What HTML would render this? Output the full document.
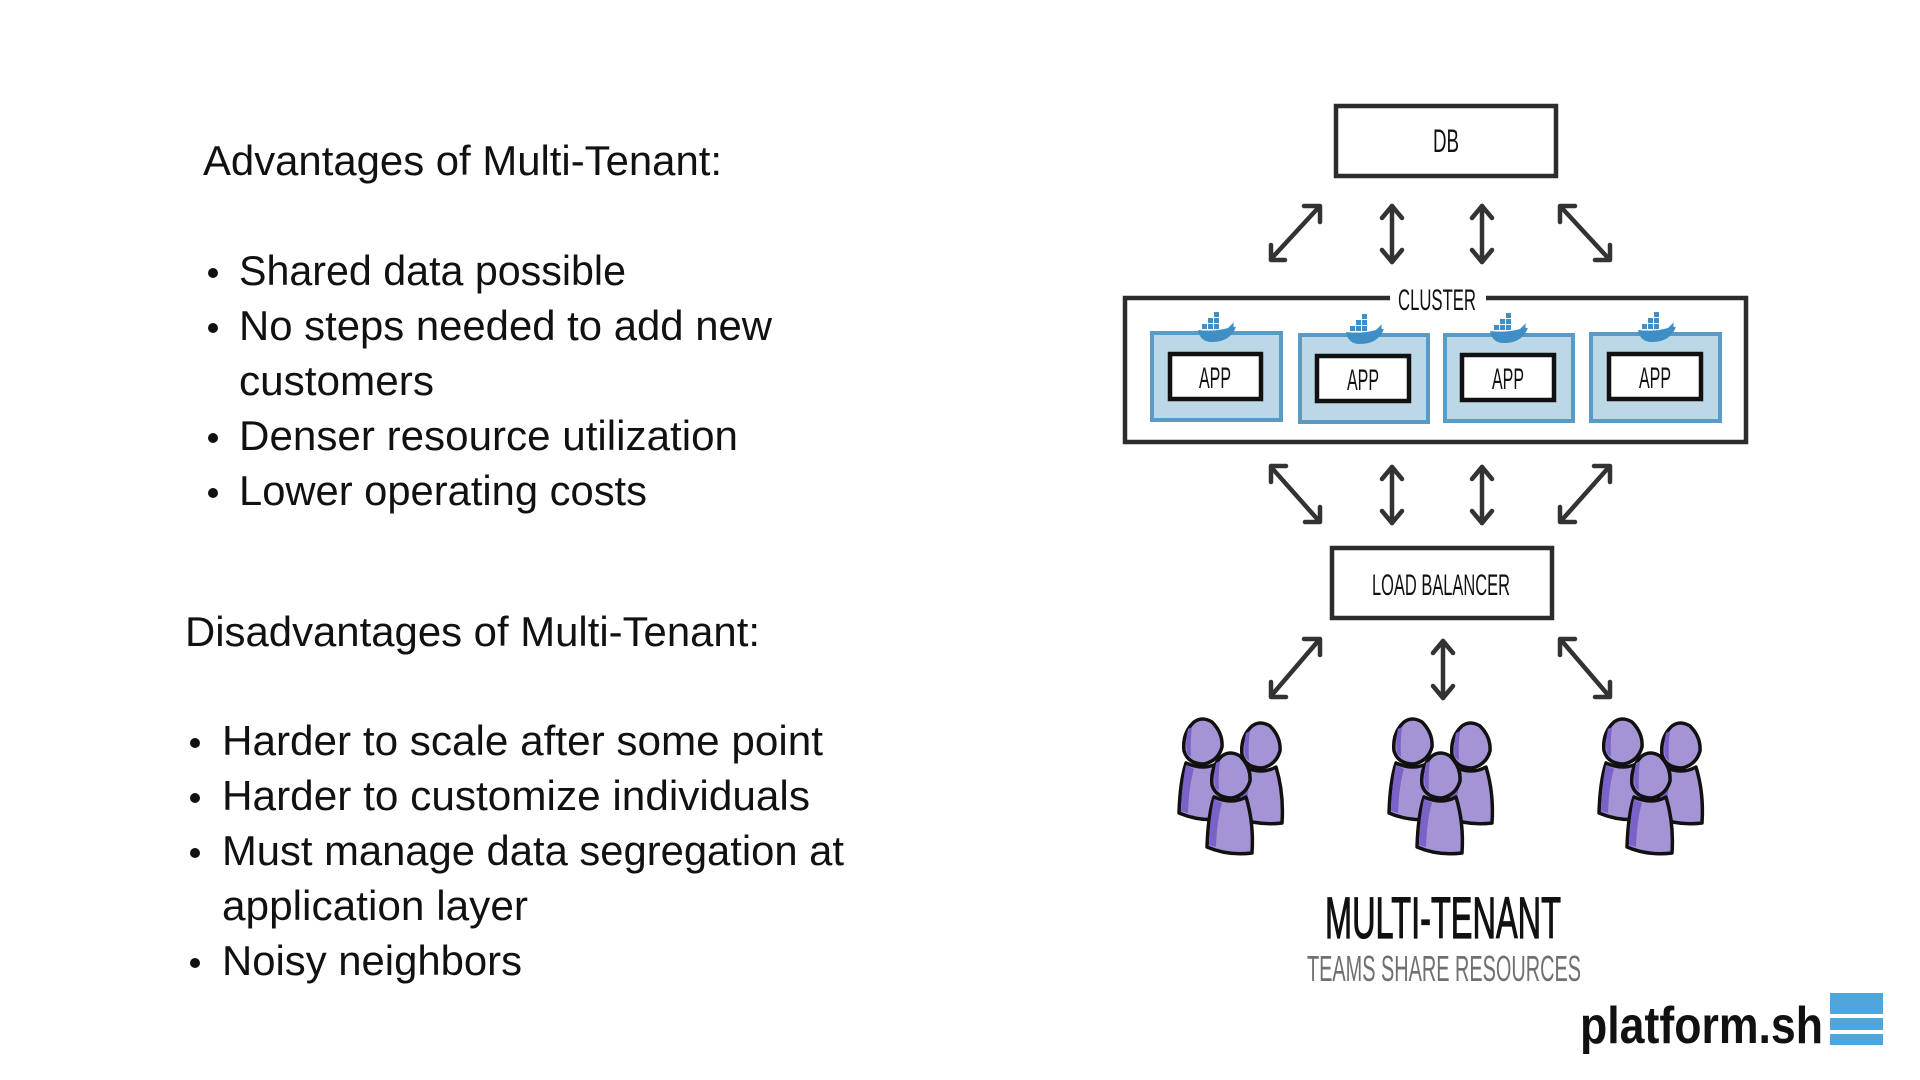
<!DOCTYPE html>
<html><head><meta charset="utf-8"><style>
html,body{margin:0;padding:0;background:#fff;width:1920px;height:1080px;overflow:hidden}
svg{display:block}
.t{font-family:"Liberation Sans",sans-serif;font-size:42px;fill:#111}
.h{font-family:"Liberation Sans Narrow","Liberation Sans",sans-serif;fill:#111}
.ar{fill:none;stroke:#333;stroke-width:4.5;stroke-linecap:round;stroke-linejoin:round}
</style></head><body>
<svg width="1920" height="1080" viewBox="0 0 1920 1080" xmlns="http://www.w3.org/2000/svg">
<defs>
<g id="person">
  <path d="M6,44 Q0,62 -1,94 Q20,103 44,100 Q46,70 38,44 Q24,52 6,44 Z" fill="#a594d5" stroke="#111" stroke-width="3.5" stroke-linejoin="round"/>
  <path d="M6,46 Q2,64 1,92 L8,94 Q9,66 14,50 Z" fill="#7a62c9"/>
  <path d="M14,3 Q22,-3 32,3 Q43,14 42,28 Q38,42 24,45 Q8,45 4,32 Q2,14 14,3 Z" fill="#a594d5" stroke="#111" stroke-width="3.5" stroke-linejoin="round"/>
  <path d="M8,10 Q5,22 7,34 L11,38 Q10,22 12,8 Z" fill="#7a62c9"/>
</g>
<g id="group">
  <use href="#person" x="0" y="0"/>
  <use href="#person" x="58" y="4"/>
  <use href="#person" x="28" y="34"/>
</g>
<g id="whale">
  <path d="M0,10 Q16,12 30,8 Q34,4 36,2 Q34,8 38,7 Q32,22 14,22 Q2,22 0,10 Z" fill="#3f8fc6"/>
  <rect x="4" y="4" width="5" height="5" fill="#3f8fc6"/><rect x="10" y="4" width="5" height="5" fill="#3f8fc6"/><rect x="16" y="4" width="5" height="5" fill="#3f8fc6"/>
  <rect x="10" y="-2" width="5" height="5" fill="#3f8fc6"/><rect x="16" y="-2" width="5" height="5" fill="#3f8fc6"/><rect x="16" y="-8" width="5" height="5" fill="#3f8fc6"/>
</g>
</defs>

<text class="t" x="203" y="175" textLength="519" lengthAdjust="spacingAndGlyphs">Advantages of Multi-Tenant:</text>
<g class="t">
<circle cx="213" cy="273" r="5" fill="#111"/><text x="239" y="285" textLength="387" lengthAdjust="spacingAndGlyphs">Shared data possible</text>
<circle cx="213" cy="328" r="5" fill="#111"/><text x="239" y="340" textLength="533" lengthAdjust="spacingAndGlyphs">No steps needed to add new</text>
<text x="239" y="395" textLength="195" lengthAdjust="spacingAndGlyphs">customers</text>
<circle cx="213" cy="438" r="5" fill="#111"/><text x="239" y="450" textLength="499" lengthAdjust="spacingAndGlyphs">Denser resource utilization</text>
<circle cx="213" cy="493" r="5" fill="#111"/><text x="239" y="505" textLength="408" lengthAdjust="spacingAndGlyphs">Lower operating costs</text>
</g>
<text class="t" x="185" y="646" textLength="575" lengthAdjust="spacingAndGlyphs">Disadvantages of Multi-Tenant:</text>
<g class="t">
<circle cx="195" cy="743" r="5" fill="#111"/><text x="222" y="755" textLength="601" lengthAdjust="spacingAndGlyphs">Harder to scale after some point</text>
<circle cx="195" cy="798" r="5" fill="#111"/><text x="222" y="810" textLength="588" lengthAdjust="spacingAndGlyphs">Harder to customize individuals</text>
<circle cx="195" cy="853" r="5" fill="#111"/><text x="222" y="865" textLength="622" lengthAdjust="spacingAndGlyphs">Must manage data segregation at</text>
<text x="222" y="920" textLength="306" lengthAdjust="spacingAndGlyphs">application layer</text>
<circle cx="195" cy="963" r="5" fill="#111"/><text x="222" y="975" textLength="300" lengthAdjust="spacingAndGlyphs">Noisy neighbors</text>
</g>

<rect x="1336" y="106" width="220" height="70" fill="#fff" stroke="#2c2c2c" stroke-width="4.5"/>
<text class="h" x="1446" y="152" font-size="32" text-anchor="middle" textLength="26" lengthAdjust="spacingAndGlyphs">DB</text>

<g class="ar">
<line x1="1271" y1="259" x2="1319" y2="207"/><polyline points="1271,245 1271,260 1285,260"/><polyline points="1304,206 1320,206 1320,222"/>
<line x1="1392" y1="206" x2="1392" y2="262"/><polyline points="1382,218 1392,206 1402,218"/><polyline points="1382,250 1392,262 1402,250"/>
<line x1="1482" y1="206" x2="1482" y2="262"/><polyline points="1472,218 1482,206 1492,218"/><polyline points="1472,250 1482,262 1492,250"/>
<line x1="1561" y1="207" x2="1609" y2="259"/><polyline points="1560,222 1560,206 1575,206"/><polyline points="1595,260 1610,260 1610,245"/>
</g>

<rect x="1125" y="298" width="621" height="144" fill="#fff" stroke="#2c2c2c" stroke-width="4.5"/>
<rect x="1390" y="286" width="96" height="26" fill="#fff"/>
<text class="h" x="1437" y="310" font-size="30" text-anchor="middle" textLength="78" lengthAdjust="spacingAndGlyphs">CLUSTER</text>

<g>
<rect x="1152" y="333" width="129" height="87" fill="#bcd8e6" stroke="#5a9ac4" stroke-width="4"/>
<rect x="1170" y="354" width="91" height="45" fill="#fff" stroke="#111" stroke-width="4.5"/>
<text class="h" x="1215" y="388" font-size="30" text-anchor="middle" textLength="32" lengthAdjust="spacingAndGlyphs">APP</text>
<use href="#whale" x="1198" y="320"/>

<rect x="1300" y="335" width="128" height="87" fill="#bcd8e6" stroke="#5a9ac4" stroke-width="4"/>
<rect x="1317" y="356" width="92" height="45" fill="#fff" stroke="#111" stroke-width="4.5"/>
<text class="h" x="1363" y="390" font-size="30" text-anchor="middle" textLength="32" lengthAdjust="spacingAndGlyphs">APP</text>
<use href="#whale" x="1346" y="322"/>

<rect x="1445" y="335" width="128" height="86" fill="#bcd8e6" stroke="#5a9ac4" stroke-width="4"/>
<rect x="1462" y="355" width="92" height="45" fill="#fff" stroke="#111" stroke-width="4.5"/>
<text class="h" x="1508" y="389" font-size="30" text-anchor="middle" textLength="32" lengthAdjust="spacingAndGlyphs">APP</text>
<use href="#whale" x="1490" y="321"/>

<rect x="1591" y="334" width="129" height="87" fill="#bcd8e6" stroke="#5a9ac4" stroke-width="4"/>
<rect x="1609" y="354" width="92" height="45" fill="#fff" stroke="#111" stroke-width="4.5"/>
<text class="h" x="1655" y="388" font-size="30" text-anchor="middle" textLength="32" lengthAdjust="spacingAndGlyphs">APP</text>
<use href="#whale" x="1638" y="320"/>
</g>

<g class="ar">
<line x1="1271" y1="467" x2="1319" y2="521"/><polyline points="1271,482 1271,466 1286,466"/><polyline points="1305,522 1320,522 1320,507"/>
<line x1="1392" y1="467" x2="1392" y2="523"/><polyline points="1382,479 1392,467 1402,479"/><polyline points="1382,511 1392,523 1402,511"/>
<line x1="1482" y1="467" x2="1482" y2="523"/><polyline points="1472,479 1482,467 1492,479"/><polyline points="1472,511 1482,523 1492,511"/>
<line x1="1561" y1="521" x2="1609" y2="467"/><polyline points="1560,507 1560,522 1575,522"/><polyline points="1594,466 1610,466 1610,482"/>
</g>

<rect x="1332" y="548" width="220" height="70" fill="#fff" stroke="#2c2c2c" stroke-width="4.5"/>
<text class="h" x="1441" y="595" font-size="30" text-anchor="middle" textLength="138" lengthAdjust="spacingAndGlyphs">LOAD BALANCER</text>

<g class="ar">
<line x1="1271" y1="696" x2="1319" y2="640"/><polyline points="1271,682 1271,697 1286,697"/><polyline points="1304,639 1320,639 1320,655"/>
<line x1="1443" y1="641" x2="1443" y2="698"/><polyline points="1433,653 1443,641 1453,653"/><polyline points="1433,686 1443,698 1453,686"/>
<line x1="1561" y1="640" x2="1609" y2="696"/><polyline points="1560,655 1560,639 1575,639"/><polyline points="1595,697 1610,697 1610,682"/>
</g>

<use href="#group" x="1180" y="719"/>
<use href="#group" x="1390" y="719"/>
<use href="#group" x="1600" y="719"/>

<text class="h" x="1443" y="938" font-size="58" text-anchor="middle" textLength="236" lengthAdjust="spacingAndGlyphs" stroke="#111" stroke-width="1.2">MULTI-TENANT</text>
<text class="h" x="1444" y="981" font-size="36" text-anchor="middle" textLength="274" lengthAdjust="spacingAndGlyphs" style="fill:#707070">TEAMS SHARE RESOURCES</text>

<text x="1580" y="1043" font-family="Liberation Sans,sans-serif" font-weight="bold" font-size="52" fill="#111" textLength="243" lengthAdjust="spacingAndGlyphs">platform.sh</text>
<rect x="1830" y="993" width="53" height="21" fill="#4ea6dc"/>
<rect x="1830" y="1018" width="53" height="12" fill="#4ea6dc"/>
<rect x="1830" y="1034" width="53" height="11" fill="#4ea6dc"/>
</svg>
</body></html>
